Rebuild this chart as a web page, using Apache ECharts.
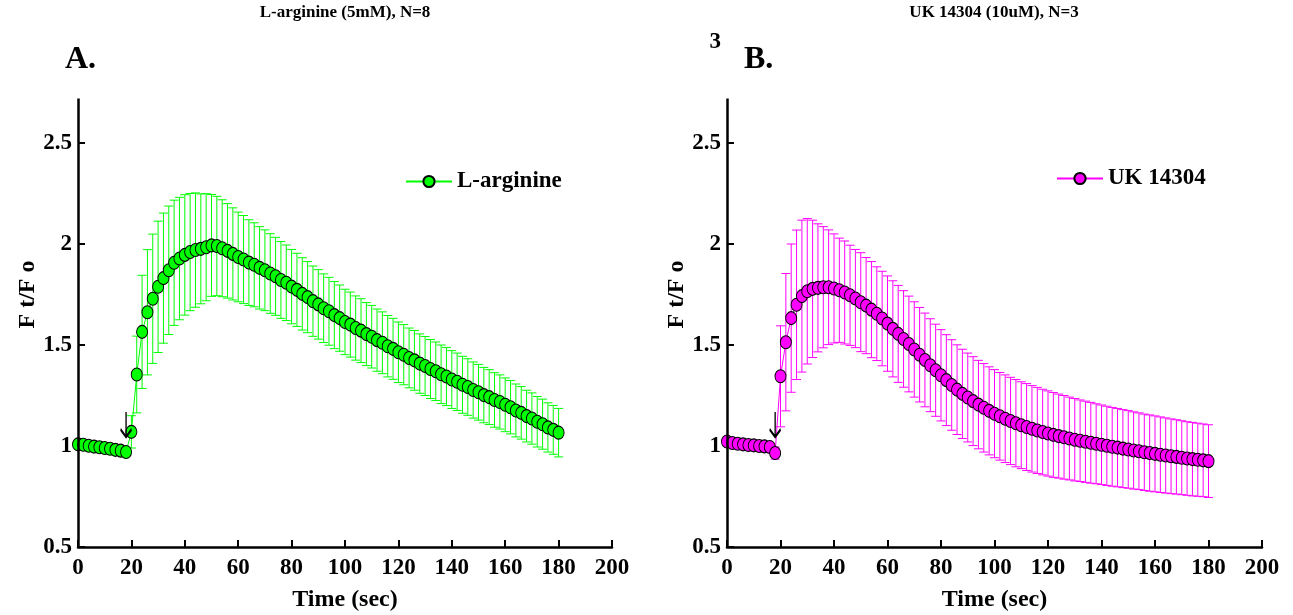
<!DOCTYPE html>
<html><head><meta charset="utf-8">
<script src="https://cdn.jsdelivr.net/npm/echarts@6/dist/echarts.min.js"></script>
<style>html,body{margin:0;padding:0;background:#fff}#c{width:1293px;height:615px}</style>
</head><body><div id="c"></div>
<script>
// ---- data ----
const time = [0,2,4,6,8,10,12,14,16,18,20,22,24,26,28,30,32,34,36,38,40,42,44,46,48,50,52,54,56,58,
  60,62,64,66,68,70,72,74,76,78,80,82,84,86,88,90,92,94,96,98,100,102,104,106,108,110,112,114,116,118,
  120,122,124,126,128,130,132,134,136,138,140,142,144,146,148,150,152,154,156,158,160,162,164,166,168,170,172,174,176,178,180];
const argMean = [1.008,1.006,1.001,0.997,0.994,0.990,0.986,0.981,0.977,0.970,
  1.070,1.354,1.565,1.662,1.729,1.788,1.831,1.870,1.907,1.928,
  1.946,1.960,1.970,1.976,1.984,1.993,1.990,1.979,1.966,1.951,
  1.936,1.923,1.908,1.897,1.882,1.870,1.854,1.840,1.822,1.808,
  1.789,1.773,1.753,1.737,1.717,1.701,1.682,1.667,1.648,1.633,
  1.614,1.601,1.584,1.571,1.554,1.541,1.524,1.511,1.494,1.481,
  1.464,1.452,1.436,1.424,1.408,1.396,1.381,1.370,1.355,1.344,
  1.329,1.318,1.303,1.292,1.277,1.266,1.252,1.242,1.228,1.218,
  1.204,1.192,1.176,1.164,1.148,1.136,1.120,1.108,1.092,1.080,
  1.066];
const argErr = [0.012,0.010,0.012,0.011,0.013,0.012,0.014,0.013,0.015,0.016,
  0.080,0.190,0.280,0.310,0.320,0.325,0.322,0.318,0.310,0.303,
  0.298,0.290,0.283,0.272,0.265,0.252,0.246,0.240,0.234,0.228,
  0.222,0.218,0.212,0.208,0.204,0.200,0.197,0.193,0.190,0.187,
  0.184,0.181,0.179,0.176,0.174,0.172,0.170,0.168,0.166,0.164,
  0.162,0.161,0.159,0.158,0.156,0.155,0.154,0.153,0.152,0.151,
  0.150,0.149,0.148,0.148,0.147,0.146,0.146,0.145,0.145,0.144,
  0.143,0.142,0.141,0.140,0.139,0.138,0.137,0.136,0.135,0.134,
  0.133,0.132,0.131,0.130,0.128,0.127,0.125,0.124,0.122,0.121,
  0.120];
const ukMean = [1.022,1.015,1.011,1.008,1.005,1.003,1.000,0.998,0.995,0.965,
  1.345,1.514,1.633,1.699,1.742,1.766,1.778,1.783,1.786,1.786,
  1.780,1.771,1.760,1.746,1.730,1.712,1.695,1.675,1.655,1.631,
  1.606,1.580,1.555,1.530,1.505,1.478,1.452,1.426,1.400,1.375,
  1.350,1.326,1.302,1.279,1.258,1.240,1.222,1.205,1.189,1.174,
  1.160,1.147,1.135,1.124,1.113,1.103,1.094,1.085,1.077,1.069,
  1.062,1.055,1.049,1.043,1.037,1.031,1.026,1.021,1.016,1.011,
  1.006,1.001,0.996,0.992,0.987,0.983,0.978,0.974,0.969,0.965,
  0.961,0.957,0.953,0.949,0.946,0.942,0.938,0.935,0.932,0.929,
  0.925];
const ukErr = [0.016,0.014,0.015,0.013,0.014,0.015,0.013,0.014,0.016,0.030,
  0.250,0.340,0.367,0.370,0.376,0.360,0.340,0.317,0.300,0.284,
  0.270,0.258,0.255,0.248,0.243,0.245,0.238,0.238,0.232,0.234,
  0.236,0.238,0.240,0.239,0.237,0.236,0.234,0.232,0.230,0.228,
  0.226,0.225,0.224,0.222,0.221,0.220,0.220,0.219,0.219,0.218,
  0.218,0.217,0.217,0.216,0.216,0.215,0.215,0.214,0.213,0.212,
  0.211,0.210,0.208,0.207,0.205,0.204,0.202,0.201,0.200,0.198,
  0.197,0.196,0.195,0.194,0.193,0.192,0.191,0.190,0.189,0.189,
  0.188,0.187,0.186,0.185,0.184,0.183,0.182,0.182,0.181,0.180,
  0.180];
const seriesNames = ['L-arginine', 'UK 14304'];
const panelTitles = ['L-arginine (5mM), N=8', 'UK 14304 (10uM), N=3'];
const panelLetters = ['A.', 'B.'];
const yTicks = [0.5, 1, 1.5, 2, 2.5];
const yLabelsA = [0.5, 1, 1.5, 2, 2.5];
const yLabelsB = [0.5, 1, 1.5, 2, 2.5, 3];
const yAxisLineTop = 2.72;
const arrowTime = 18, arrowMid = 1.106;

// ---- chart ----
const FONT = '"Liberation Serif", "Times New Roman", serif';
const GREEN = '#00ff00', MAGENTA = '#ff00ff';

function errData(mean, err) { return time.map((t, i) => [t, mean[i] - err[i], mean[i] + err[i]]); }
function errRender(color) {
  return function (params, api) {
    const x = api.value(0);
    const lo = api.coord([x, api.value(1)]);
    const hi = api.coord([x, api.value(2)]);
    const w = 4.5;
    const st = { stroke: color, lineWidth: 1 };
    return { type: 'group', children: [
      { type: 'line', shape: { x1: lo[0], y1: lo[1], x2: hi[0], y2: hi[1] }, style: st },
      { type: 'line', shape: { x1: lo[0] - w, y1: lo[1], x2: lo[0] + w, y2: lo[1] }, style: st },
      { type: 'line', shape: { x1: hi[0] - w, y1: hi[1], x2: hi[0] + w, y2: hi[1] }, style: st }
    ]};
  };
}
function xAxis(gi) {
  return {
    gridIndex: gi, type: 'value', min: 0, max: 200, interval: 20,
    axisLine: { show: true, onZero: false, lineStyle: { color: '#000', width: 2.5 } },
    axisTick: { inside: true, length: 7, lineStyle: { color: '#000', width: 2 } },
    axisLabel: { color: '#000', fontFamily: FONT, fontWeight: 'bold', fontSize: 23, margin: 10 },
    splitLine: { show: false },
    name: 'Time (sec)', nameLocation: 'middle', nameGap: 41,
    nameTextStyle: { color: '#000', fontFamily: FONT, fontWeight: 'bold', fontSize: 24 }
  };
}
function yAxis(gi, labels) {
  return {
    gridIndex: gi, type: 'value', min: 0.5, max: 3, interval: 0.5,
    axisLine: { show: false },
    axisTick: { show: true, inside: true, length: 7, customValues: yTicks, lineStyle: { color: '#000', width: 2 } },
    axisLabel: { color: '#000', fontFamily: FONT, fontWeight: 'bold', fontSize: 23, margin: 6, customValues: labels },
    splitLine: { show: false },
    name: 'F t/F o', nameLocation: 'middle', nameGap: 37,
    nameTextStyle: { color: '#000', fontFamily: FONT, fontWeight: 'bold', fontSize: 24 }
  };
}
function lineSeries(gi, name, mean, color) {
  return {
    type: 'line', name: name, xAxisIndex: gi, yAxisIndex: gi,
    data: time.map((t, i) => [t, mean[i]]),
    symbol: 'circle', symbolSize: [11, 13], showSymbol: true,
    itemStyle: { color: color, borderColor: '#000', borderWidth: 1 },
    lineStyle: { color: color, width: 1 },
    z: 3,
    markPoint: {
      silent: true,
      symbol: 'path://M6,0L6,26M0,18L6,26L12,18',
      symbolSize: [11, 25],
      itemStyle: { color: 'none', borderColor: '#000', borderWidth: 2 },
      label: { show: false },
      data: [{ coord: [arrowTime, arrowMid] }]
    }
  };
}
function axisLineSeries(gi) {
  return {
    type: 'line', xAxisIndex: gi, yAxisIndex: gi, data: [], z: 1, silent: true,
    markLine: {
      silent: true, symbol: ['none', 'none'], animation: false,
      lineStyle: { color: '#000', width: 2.5, type: 'solid' },
      label: { show: false },
      data: [[{ coord: [0, 0.5] }, { coord: [0, yAxisLineTop] }]]
    }
  };
}
function legend(name, left, top) {
  return {
    data: [name], left: left, top: top, itemWidth: 46, itemHeight: 14, itemGap: 8,
    selectedMode: false,
    textStyle: { color: '#000', fontFamily: FONT, fontWeight: 'bold', fontSize: 23 }
  };
}
const txt = (text, x, y, size, align) => ({
  type: 'text', x: x, y: y, silent: true,
  style: { text: text, font: 'bold ' + size + 'px ' + FONT, fill: '#000', textAlign: align, textVerticalAlign: 'middle' }
});

const chart = echarts.init(document.getElementById('c'), null, { renderer: 'canvas' });
chart.setOption({
  animation: false,
  backgroundColor: '#fff',
  grid: [
    { left: 78, right: 681, top: 42, bottom: 68, outerBoundsMode: 'none', containLabel: false },
    { left: 727, right: 31, top: 42, bottom: 68, outerBoundsMode: 'none', containLabel: false }
  ],
  xAxis: [xAxis(0), xAxis(1)],
  yAxis: [yAxis(0, yLabelsA), yAxis(1, yLabelsB)],
  legend: [legend(seriesNames[0], 400, 165), legend(seriesNames[1], 1051, 162)],
  graphic: [
    txt(panelTitles[0], 345, 13, 17, 'center'),
    txt(panelTitles[1], 994, 13, 17, 'center'),
    txt(panelLetters[0], 65, 60, 32, 'left'),
    txt(panelLetters[1], 744, 60, 32, 'left')
  ],
  series: [
    axisLineSeries(0), axisLineSeries(1),
    { type: 'custom', xAxisIndex: 0, yAxisIndex: 0, z: 2, silent: true, renderItem: errRender(GREEN), data: errData(argMean, argErr) },
    { type: 'custom', xAxisIndex: 1, yAxisIndex: 1, z: 2, silent: true, renderItem: errRender(MAGENTA), data: errData(ukMean, ukErr) },
    lineSeries(0, seriesNames[0], argMean, GREEN),
    lineSeries(1, seriesNames[1], ukMean, MAGENTA)
  ]
});
</script></body></html>
